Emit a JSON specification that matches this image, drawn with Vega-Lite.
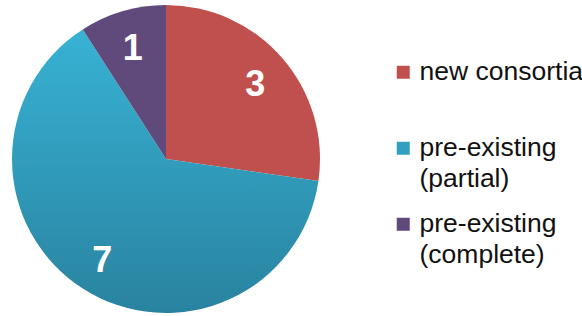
{
  "$schema": "https://vega.github.io/schema/vega-lite/v6.json",
  "width": 332,
  "height": 314,
  "padding": {"left": 0, "top": 2, "right": 250, "bottom": 0},
  "autosize": {"type": "none"},
  "background": "white",
  "data": {"values": [
    {"category": "new consortia", "value": 3, "idx": 1},
    {"category": "pre-existing (partial)", "value": 7, "idx": 2},
    {"category": "pre-existing (complete)", "value": 1, "idx": 3}
  ]},
  "encoding": {
    "theta": {"field": "value", "type": "quantitative", "stack": true},
    "order": {"field": "idx", "type": "quantitative"}
  },
  "layer": [
    {
      "mark": {"type": "arc", "outerRadius": 154},
      "encoding": {
        "color": {
          "condition": {"test": "datum.idx == 2", "value": {"gradient": "linear", "x1": 0, "y1": 0, "x2": 0, "y2": 1, "stops": [{"offset": 0, "color": "#38B2D4"}, {"offset": 1, "color": "#2983A0"}]}},
          "field": "category",
          "type": "nominal",
          "scale": {
            "domain": ["new consortia", "pre-existing (partial)", "pre-existing (complete)"],
            "range": ["#C0504D", "#31A0C0", "#604A7B"]
          },
          "legend": {
            "title": null,
            "orient": "none",
            "legendX": 390,
            "legendY": 57,
            "padding": 0,
            "symbolType": "square",
            "symbolSize": 169,
            "symbolStrokeWidth": 0,
            "labelFont": "Liberation Sans",
            "labelFontSize": 26.5,
            "labelColor": "#111111",
            "labelLimit": 0,
            "labelOffset": 3,
            "rowPadding": 18,
            "labelExpr": "datum.label == 'pre-existing (partial)' ? ['pre-existing', '(partial)'] : datum.label == 'pre-existing (complete)' ? ['pre-existing', '(complete)'] : [datum.label, '']",
            "encode": {"labels": {"update": {"lineHeight": {"value": 31}}}}
          }
        }
      }
    },
    {
      "mark": {"type": "text", "radius": 118, "dy": 3, "fontSize": 36, "fontWeight": "bold", "font": "Liberation Sans", "color": "white", "baseline": "middle", "align": "center"},
      "encoding": {
        "text": {"field": "value", "type": "quantitative"}
      }
    }
  ]
}
